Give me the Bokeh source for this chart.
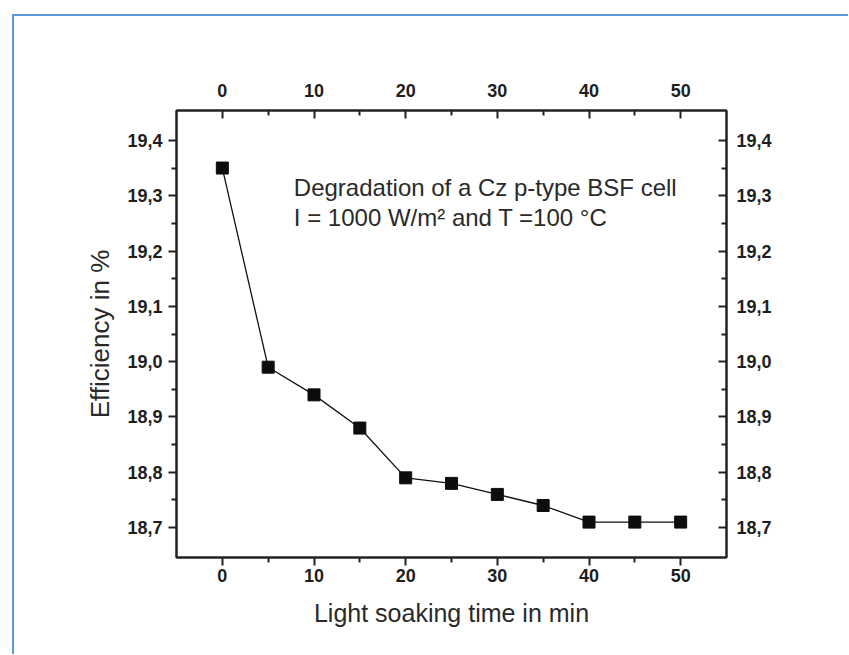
from bokeh.plotting import figure
from bokeh.models import LinearAxis, FixedTicker, CustomJSTickFormatter, Range1d, Label
from bokeh.embed import file_html
from bokeh.resources import INLINE

# ---- data ----
time_min = [0, 5, 10, 15, 20, 25, 30, 35, 40, 45, 50]
efficiency = [19.35, 18.99, 18.94, 18.88, 18.79, 18.78, 18.76, 18.74, 18.71, 18.71, 18.71]
x_major = [0, 10, 20, 30, 40, 50]
x_minor = [5, 15, 25, 35, 45]
y_major = [18.7, 18.8, 18.9, 19.0, 19.1, 19.2, 19.3, 19.4]
y_minor = [18.75, 18.85, 18.95, 19.05, 19.15, 19.25, 19.35]
note_line1 = "Degradation of a Cz p-type BSF cell"
note_line2 = "I = 1000 W/m\u00b2 and T =100 \u00b0C"
x_title = "Light soaking time in min"
y_title = "Efficiency in %"

FONT = "Liberation Sans"
INK = "#1e1e1e"
AXC = "#222222"
BLUE = "#5b9bd5"

p = figure(width=848, height=654,
           x_range=Range1d(-5, 55), y_range=Range1d(18.646, 19.454),
           output_backend="svg", toolbar_location=None,
           min_border_left=176, min_border_right=122,
           min_border_top=110, min_border_bottom=97)

# light-blue page frame (top and left edges) painted behind a transparent canvas
grad = f"linear-gradient({BLUE}, {BLUE})"
p.styles = {
    "background-color": "white",
    "background-image": f"{grad}, {grad}",
    "background-size": "100% 2px, 2px 100%",
    "background-position": "12px 14px, 12px 14px",
    "background-repeat": "no-repeat",
}
p.border_fill_color = None
p.background_fill_color = "white"

p.xgrid.visible = False
p.ygrid.visible = False
p.outline_line_color = AXC
p.outline_line_width = 2

xt = FixedTicker(ticks=x_major, minor_ticks=x_minor)
yt = FixedTicker(ticks=y_major, minor_ticks=y_minor)
yfmt = CustomJSTickFormatter(code="return tick.toFixed(1).replace('.', ',');")


def style_axis(ax, inward):
    ax.axis_line_color = AXC
    ax.axis_line_width = 2
    ax.major_tick_line_color = AXC
    ax.minor_tick_line_color = AXC
    ax.major_tick_line_width = 2
    ax.minor_tick_line_width = 2
    if inward:
        ax.major_tick_in, ax.major_tick_out = 8, 0
        ax.minor_tick_in, ax.minor_tick_out = 5, 0
    else:
        ax.major_tick_in, ax.major_tick_out = 0, 8
        ax.minor_tick_in, ax.minor_tick_out = 0, 5
    ax.major_label_text_font = FONT
    ax.major_label_text_font_style = "bold"
    ax.major_label_text_font_size = "18px"
    ax.major_label_text_color = INK
    ax.axis_label_text_font = FONT
    ax.axis_label_text_font_style = "normal"
    ax.axis_label_text_font_size = "25px"
    ax.axis_label_text_color = "#2a2a2a"


xb = p.xaxis[0]
xb.ticker = xt
style_axis(xb, False)
xb.axis_label = x_title
xb.major_label_standoff = 3
xb.axis_label_standoff = 14

yl = p.yaxis[0]
yl.ticker = yt
yl.formatter = yfmt
style_axis(yl, False)
yl.axis_label = y_title
yl.axis_label_text_font_size = "26px"
yl.major_label_standoff = 6
yl.axis_label_standoff = 9

xtop = LinearAxis(ticker=xt)
style_axis(xtop, True)
xtop.major_label_standoff = 14
p.add_layout(xtop, "above")

yr = LinearAxis(ticker=yt, formatter=yfmt)
style_axis(yr, True)
yr.major_label_standoff = 10
p.add_layout(yr, "right")

p.line(time_min, efficiency, line_color="#111111", line_width=1.3)
p.scatter(time_min, efficiency, marker="square", size=12,
          fill_color="#0d0d0d", line_color="#0d0d0d")

for i, txt in enumerate([note_line1, note_line2]):
    p.add_layout(Label(x=7.8, y=19.315 - i * 0.055, text=txt,
                       text_font=FONT, text_font_size="24px",
                       text_color="#2a2a2a", text_baseline="alphabetic"))

open("out.html", "w").write(file_html(p, INLINE))
